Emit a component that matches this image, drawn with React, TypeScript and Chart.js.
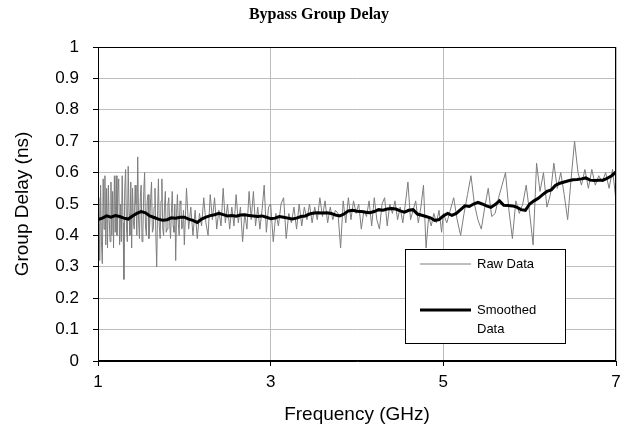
import React, { useEffect, useRef } from "react";
import { Chart, registerables } from "chart.js";

Chart.register(...registerables);

const chartTitle = "Bypass Group Delay";
const xAxisTitle = "Frequency (GHz)";
const yAxisTitle = "Group Delay (ns)";
const rawLabel = "Raw Data";
const smoothLabel = "Smoothed Data";

const xTickValues = [1, 3, 5, 7];
const yTickValues = [0, 0.1, 0.2, 0.3, 0.4, 0.5, 0.6, 0.7, 0.8, 0.9, 1];

const rawFreq = [
  1.00, 1.01, 1.02, 1.03, 1.04, 1.05, 1.06, 1.07, 1.08, 1.09,
  1.10, 1.11, 1.12, 1.13, 1.14, 1.15, 1.16, 1.17, 1.18, 1.19,
  1.20, 1.21, 1.22, 1.23, 1.24, 1.25, 1.26, 1.27, 1.28, 1.29,
  1.30, 1.31, 1.32, 1.33, 1.34, 1.35, 1.36, 1.37, 1.38, 1.39,
  1.40, 1.41, 1.42, 1.43, 1.44, 1.45, 1.46, 1.47, 1.48, 1.49,
  1.50, 1.51, 1.52, 1.53, 1.54, 1.55, 1.56, 1.57, 1.58, 1.59,
  1.60, 1.61, 1.62, 1.63, 1.64, 1.65, 1.66, 1.67, 1.68, 1.69,
  1.70, 1.71, 1.72, 1.73, 1.74, 1.75, 1.76, 1.77, 1.78, 1.79,
  1.80, 1.81, 1.82, 1.83, 1.84, 1.85, 1.86, 1.87, 1.88, 1.89,
  1.90, 1.91, 1.92, 1.93, 1.94, 1.95, 1.96, 1.97, 1.98, 1.99,
  2.000, 2.025, 2.050, 2.075, 2.100, 2.125, 2.150, 2.175, 2.200, 2.225,
  2.250, 2.275, 2.300, 2.325, 2.350, 2.375, 2.400, 2.425, 2.450, 2.475,
  2.500, 2.525, 2.550, 2.575, 2.600, 2.625, 2.650, 2.675, 2.700, 2.725,
  2.750, 2.775, 2.800, 2.825, 2.850, 2.875, 2.900, 2.925, 2.950, 2.975,
  3.00, 3.03, 3.06, 3.09, 3.12, 3.15, 3.18, 3.21, 3.24, 3.27,
  3.30, 3.33, 3.36, 3.39, 3.42, 3.45, 3.48, 3.51, 3.54, 3.57,
  3.60, 3.63, 3.66, 3.69, 3.72, 3.75, 3.78, 3.81, 3.84, 3.87,
  3.90, 3.93, 3.96, 3.99, 4.02, 4.05, 4.08, 4.11, 4.14, 4.17,
  4.20, 4.23, 4.26, 4.29, 4.32, 4.35, 4.38, 4.41, 4.44, 4.47,
  4.50, 4.53, 4.56, 4.59, 4.62, 4.65, 4.68, 4.71, 4.74, 4.77,
  4.80, 4.83, 4.86, 4.89, 4.92, 4.95, 4.98,
  5.00, 5.04, 5.08, 5.12, 5.16, 5.20, 5.24, 5.28, 5.32, 5.36,
  5.40, 5.44, 5.48, 5.52, 5.56, 5.60, 5.64, 5.68, 5.72, 5.76,
  5.80, 5.84, 5.88, 5.92, 5.96, 6.00, 6.04, 6.08, 6.12, 6.16,
  6.20, 6.24, 6.28, 6.32, 6.36, 6.40, 6.44, 6.48, 6.52, 6.56,
  6.60, 6.64, 6.68, 6.72, 6.76, 6.80, 6.84, 6.88, 6.92, 6.96,
  7.00,
];

const rawDelay = [
  0.45, 0.52, 0.32, 0.56, 0.38, 0.31, 0.58, 0.42, 0.59, 0.37,
  0.55, 0.36, 0.56, 0.45, 0.38, 0.57, 0.40, 0.54, 0.36, 0.59,
  0.41, 0.59, 0.40, 0.53, 0.58, 0.37, 0.50, 0.38, 0.59, 0.44,
  0.26, 0.55, 0.61, 0.42, 0.38, 0.62, 0.47, 0.40, 0.57, 0.36,
  0.55, 0.44, 0.42, 0.56, 0.50, 0.40, 0.65, 0.45, 0.39, 0.52,
  0.56, 0.38, 0.41, 0.54, 0.60, 0.43, 0.40, 0.51, 0.53, 0.39,
  0.44, 0.52, 0.57, 0.41, 0.42, 0.49, 0.55, 0.40, 0.30, 0.48,
  0.58, 0.43, 0.39, 0.51, 0.58, 0.42, 0.40, 0.49, 0.54, 0.41,
  0.42, 0.50, 0.52, 0.44, 0.39, 0.47, 0.54, 0.43, 0.41, 0.50,
  0.32, 0.47, 0.53, 0.44, 0.40, 0.51, 0.50, 0.42, 0.43, 0.48,
  0.37, 0.55, 0.42, 0.49, 0.40, 0.48, 0.39, 0.47, 0.43, 0.52,
  0.44, 0.40, 0.53, 0.45, 0.52, 0.42, 0.48, 0.43, 0.55, 0.44,
  0.50, 0.42, 0.49, 0.43, 0.53, 0.44, 0.49, 0.38, 0.47, 0.42,
  0.54, 0.45, 0.54, 0.43, 0.49, 0.42, 0.48, 0.56, 0.41, 0.49,
  0.50, 0.38, 0.47, 0.43, 0.50, 0.52, 0.39, 0.47, 0.44, 0.49,
  0.42, 0.50, 0.43, 0.49, 0.45, 0.50, 0.44, 0.49, 0.45, 0.52,
  0.46, 0.51, 0.44, 0.49, 0.45, 0.48, 0.47, 0.36, 0.51, 0.44,
  0.52, 0.45, 0.51, 0.47, 0.50, 0.42, 0.48, 0.46, 0.51, 0.43,
  0.52, 0.45, 0.42, 0.50, 0.52, 0.43, 0.50, 0.47, 0.51, 0.45,
  0.49, 0.44, 0.50, 0.57, 0.45, 0.48, 0.51, 0.44, 0.49, 0.56,
  0.36, 0.46, 0.43, 0.47, 0.44, 0.48, 0.41,
  0.47, 0.44, 0.48, 0.52, 0.45, 0.40, 0.47, 0.53, 0.59, 0.50,
  0.45, 0.42, 0.49, 0.55, 0.46, 0.47, 0.52, 0.56, 0.60, 0.48,
  0.39, 0.51, 0.47, 0.50, 0.56, 0.47, 0.37, 0.63, 0.54, 0.60,
  0.49, 0.53, 0.63, 0.55, 0.60, 0.53, 0.45, 0.58, 0.70, 0.60,
  0.56, 0.61, 0.55, 0.61, 0.56, 0.59, 0.57, 0.60, 0.55, 0.61,
  0.51,
];

const smoothFreq = [
  1.00, 1.05, 1.10, 1.15, 1.20, 1.25, 1.30, 1.35, 1.40, 1.45,
  1.50, 1.55, 1.60, 1.65, 1.70, 1.75, 1.80, 1.85, 1.90, 1.95,
  2.00, 2.05, 2.10, 2.15, 2.20, 2.25, 2.30, 2.35, 2.40, 2.45,
  2.50, 2.55, 2.60, 2.65, 2.70, 2.75, 2.80, 2.85, 2.90, 2.95,
  3.00, 3.05, 3.10, 3.15, 3.20, 3.25, 3.30, 3.35, 3.40, 3.45,
  3.50, 3.55, 3.60, 3.65, 3.70, 3.75, 3.80, 3.85, 3.90, 3.95,
  4.00, 4.05, 4.10, 4.15, 4.20, 4.25, 4.30, 4.35, 4.40, 4.45,
  4.50, 4.55, 4.60, 4.65, 4.70, 4.75, 4.80, 4.85, 4.90, 4.95,
  5.00, 5.05, 5.10, 5.15, 5.20, 5.25, 5.30, 5.35, 5.40, 5.45,
  5.50, 5.55, 5.60, 5.65, 5.70, 5.75, 5.80, 5.85, 5.90, 5.95,
  6.00, 6.05, 6.10, 6.15, 6.20, 6.25, 6.30, 6.35, 6.40, 6.45,
  6.50, 6.55, 6.60, 6.65, 6.70, 6.75, 6.80, 6.85, 6.90, 6.95,
  7.00,
];

const smoothDelay = [
  0.450, 0.455, 0.462, 0.458, 0.463, 0.460, 0.455, 0.452, 0.462, 0.470,
  0.476, 0.472, 0.462, 0.457, 0.452, 0.448, 0.450, 0.456, 0.455, 0.458,
  0.458, 0.452, 0.448, 0.441, 0.452, 0.458, 0.463, 0.466, 0.470, 0.466,
  0.462, 0.463, 0.461, 0.465, 0.466, 0.463, 0.462, 0.460, 0.462, 0.458,
  0.453, 0.455, 0.460, 0.458, 0.455, 0.452, 0.455, 0.460, 0.462, 0.468,
  0.471, 0.472, 0.471, 0.472, 0.470, 0.465, 0.462, 0.468, 0.478, 0.480,
  0.477, 0.476, 0.474, 0.472, 0.476, 0.482, 0.480, 0.484, 0.486, 0.484,
  0.478, 0.474, 0.480, 0.482, 0.468, 0.464, 0.460, 0.456, 0.448, 0.450,
  0.462, 0.470, 0.464, 0.470, 0.482, 0.494, 0.492, 0.500, 0.505, 0.500,
  0.494, 0.489, 0.498, 0.510, 0.496, 0.495, 0.494, 0.490, 0.482, 0.480,
  0.500, 0.510, 0.518, 0.530, 0.540, 0.545, 0.560, 0.566, 0.570, 0.574,
  0.577, 0.578, 0.580, 0.583, 0.576, 0.575, 0.576, 0.576, 0.582, 0.590,
  0.602,
];

const SANS = "'Liberation Sans', Arial, sans-serif";
const SERIF = "'Liberation Serif', 'Times New Roman', serif";

const frameBorder = {
  id: "frameBorder",
  afterDatasetsDraw(chart: any) {
    const { ctx, chartArea } = chart;
    ctx.save();
    ctx.strokeStyle = "#000";
    ctx.lineWidth = 1;
    ctx.strokeRect(
      Math.round(chartArea.left) + 0.5,
      Math.round(chartArea.top) + 0.5,
      Math.round(chartArea.right - chartArea.left) - 1,
      Math.round(chartArea.bottom - chartArea.top) - 1
    );
    ctx.restore();
  },
};

const pageTitle = {
  id: "pageTitle",
  afterDraw(chart: any) {
    const { ctx } = chart;
    ctx.save();
    ctx.font = `bold 16px ${SERIF}`;
    ctx.fillStyle = "#000";
    ctx.textAlign = "center";
    ctx.textBaseline = "middle";
    ctx.fillText(chartTitle, chart.width / 2 + 3, 15);
    ctx.restore();
  },
};

const boxLegend = {
  id: "boxLegend",
  afterDraw(chart: any) {
    const { ctx, chartArea } = chart;
    const x0 = Math.round(chartArea.right - 211);
    const y0 = Math.round(chartArea.top + 202);
    const w = 160;
    const h = 94;
    ctx.save();
    ctx.fillStyle = "#fff";
    ctx.fillRect(x0, y0, w, h);
    ctx.strokeStyle = "#000";
    ctx.lineWidth = 1;
    ctx.strokeRect(x0 + 0.5, y0 + 0.5, w, h);
    ctx.font = `13px ${SANS}`;
    ctx.textBaseline = "middle";
    ctx.textAlign = "left";
    chart.data.datasets.forEach((ds: any, i: number) => {
      const ly = y0 + 15 + i * 46;
      ctx.strokeStyle = ds.borderColor;
      ctx.lineWidth = ds.borderWidth;
      ctx.beginPath();
      ctx.moveTo(x0 + 15, ly);
      ctx.lineTo(x0 + 66, ly);
      ctx.stroke();
      const words = String(ds.label).split(" ");
      const lines: string[] = [];
      let cur = "";
      words.forEach((wd) => {
        const test = cur ? cur + " " + wd : wd;
        if (cur && ctx.measureText(test).width > 75) {
          lines.push(cur);
          cur = wd;
        } else {
          cur = test;
        }
      });
      if (cur) lines.push(cur);
      ctx.fillStyle = "#000";
      lines.forEach((ln, j) => ctx.fillText(ln, x0 + 72, ly + j * 19));
    });
    ctx.restore();
  },
};

export default function App() {
  const canvasRef = useRef<HTMLCanvasElement | null>(null);

  useEffect(() => {
    document.body.style.margin = "0";
    const canvas = canvasRef.current;
    if (!canvas) return;
    const chart = new Chart(canvas, {
      type: "line",
      data: {
        datasets: [
          {
            label: rawLabel,
            data: rawFreq.map((f, i) => ({ x: f, y: rawDelay[i] })),
            borderColor: "#7d7d7d",
            borderWidth: 1,
            pointRadius: 0,
            tension: 0,
            order: 2,
          },
          {
            label: smoothLabel,
            data: smoothFreq.map((f, i) => ({ x: f, y: smoothDelay[i] })),
            borderColor: "#000000",
            borderWidth: 3,
            pointRadius: 0,
            tension: 0,
            order: 1,
          },
        ],
      },
      options: {
        animation: false,
        responsive: false,
        devicePixelRatio: 1,
        layout: { padding: { left: 0, right: 16, top: 47, bottom: 0 } },
        plugins: {
          legend: { display: false },
          tooltip: { enabled: false },
          title: { display: false },
        },
        scales: {
          x: {
            type: "linear",
            min: 1,
            max: 7,
            afterBuildTicks: (scale: any) => {
              scale.ticks = xTickValues.map((v) => ({ value: v }));
            },
            afterFit: (scale: any) => {
              scale.height = 78;
            },
            grid: {
              color: "#bdbdbd",
              tickColor: "#000",
              tickLength: 5,
            },
            border: { color: "#000", width: 1 },
            ticks: {
              color: "#000",
              font: { family: SANS, size: 17 },
              padding: 6,
              maxRotation: 0,
              callback: (v: any) => String(v),
            },
            title: {
              display: true,
              text: xAxisTitle,
              color: "#000",
              font: { family: SANS, size: 19 },
              padding: { top: 0, bottom: 13 },
            },
          },
          y: {
            type: "linear",
            min: 0,
            max: 1,
            afterBuildTicks: (scale: any) => {
              scale.ticks = yTickValues.map((v) => ({ value: v }));
            },
            afterFit: (scale: any) => {
              scale.width = 98;
            },
            grid: {
              color: "#bdbdbd",
              tickColor: "#000",
              tickLength: 5,
            },
            border: { color: "#000", width: 1 },
            ticks: {
              color: "#000",
              font: { family: SANS, size: 17 },
              padding: 14,
              callback: (v: any) => String(Math.round(Number(v) * 10) / 10),
            },
            title: {
              display: true,
              text: yAxisTitle,
              color: "#000",
              font: { family: SANS, size: 19 },
              padding: { top: 11, bottom: 0 },
            },
          },
        },
      },
      plugins: [frameBorder, boxLegend, pageTitle],
    });
    return () => chart.destroy();
  }, []);

  return (
    <div style={{ position: "absolute", left: 0, top: 0, width: 632, height: 439, background: "#fff" }}>
      <canvas ref={canvasRef} width={632} height={439} style={{ display: "block" }} />
    </div>
  );
}
